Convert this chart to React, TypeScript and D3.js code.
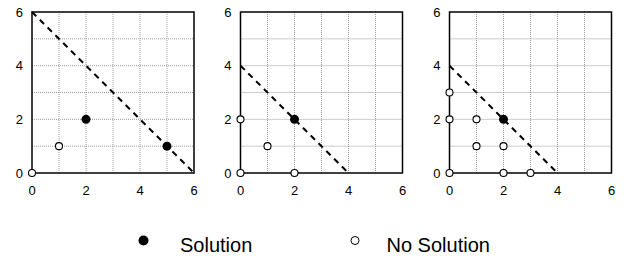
import { useEffect, useRef } from "react";
import * as d3 from "d3";

// each panel: line end-points (x-intercept = y-intercept) and points
const intercepts = [6, 4, 4];
const solutions = [
  [[2, 2], [5, 1]],
  [[2, 2]],
  [[2, 2]],
];
const noSolutions = [
  [[0, 0], [1, 1]],
  [[0, 0], [0, 2], [1, 1], [2, 0]],
  [[0, 0], [0, 2], [0, 3], [1, 1], [1, 2], [2, 0], [2, 1], [3, 0]],
];
const ticks = [0, 2, 4, 6];
const grid = [1, 2, 3, 4, 5];
const legendLabels = ["Solution", "No Solution"];

const App = () => {
  const svgRef = useRef<SVGSVGElement>(null);

  useEffect(() => {
    const width = 624, height = 259;
    const svg = d3.select(svgRef.current);
    svg.selectAll("*").remove();
    svg.attr("width", width).attr("height", height);

    const font = "'Liberation Sans', Arial, sans-serif";
    const lefts = [32, 240.5, 449.5];
    const top = 12, w = 162, h = 161;

    lefts.forEach((left, i) => {
      const x = d3.scaleLinear().domain([0, 6]).range([left, left + w]);
      const y = d3.scaleLinear().domain([0, 6]).range([top + h, top]);
      const g = svg.append("g");

      g.selectAll(".gx").data(grid).enter().append("line")
        .attr("x1", d => x(d)).attr("x2", d => x(d))
        .attr("y1", top).attr("y2", top + h)
        .attr("stroke", "#999").attr("stroke-width", 1)
        .attr("stroke-dasharray", "1,1");
      g.selectAll(".gy").data(grid).enter().append("line")
        .attr("y1", d => y(d)).attr("y2", d => y(d))
        .attr("x1", left).attr("x2", left + w)
        .attr("stroke", "#999").attr("stroke-width", 1)
        .attr("stroke-dasharray", "1,1");

      g.append("rect")
        .attr("x", left).attr("y", top).attr("width", w).attr("height", h)
        .attr("fill", "none").attr("stroke", "#000").attr("stroke-width", 1.5);

      g.selectAll(".tx").data(ticks).enter().append("text")
        .attr("x", d => x(d)).attr("y", top + h + 22)
        .attr("text-anchor", "middle").attr("font-family", font)
        .attr("font-size", 13).text(d => d);
      g.selectAll(".ty").data(ticks).enter().append("text")
        .attr("x", left - 9).attr("y", d => y(d) + 4.5)
        .attr("text-anchor", "end").attr("font-family", font)
        .attr("font-size", 13).text(d => d);

      const c = intercepts[i];
      g.append("line")
        .attr("x1", x(0)).attr("y1", y(c))
        .attr("x2", x(c)).attr("y2", y(0))
        .attr("stroke", "#000").attr("stroke-width", 2)
        .attr("stroke-dasharray", "6,5");

      g.selectAll(".open").data(noSolutions[i]).enter().append("circle")
        .attr("cx", d => x(d[0])).attr("cy", d => y(d[1])).attr("r", 3.5)
        .attr("fill", "#fff").attr("stroke", "#000").attr("stroke-width", 1.1);
      g.selectAll(".fill").data(solutions[i]).enter().append("circle")
        .attr("cx", d => x(d[0])).attr("cy", d => y(d[1])).attr("r", 4.5)
        .attr("fill", "#000");
    });

    // legend
    const lg = svg.append("g");
    lg.append("circle").attr("cx", 143.5).attr("cy", 240.5).attr("r", 5).attr("fill", "#000");
    lg.append("circle").attr("cx", 355).attr("cy", 240.5).attr("r", 4)
      .attr("fill", "#fff").attr("stroke", "#000").attr("stroke-width", 1);
    lg.selectAll("text").data(legendLabels).enter().append("text")
      .attr("x", (d, i) => (i === 0 ? 180 : 386.5)).attr("y", 251.5)
      .attr("font-family", font).attr("font-size", 20).text(d => d);
  }, []);

  return <svg ref={svgRef} style={{ position: "absolute", left: 0, top: 0 }} />;
};

export default App;
